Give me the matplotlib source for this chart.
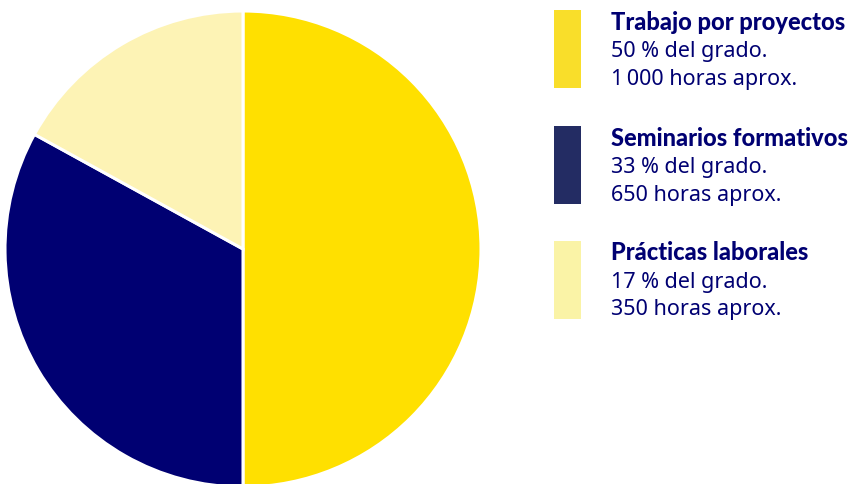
import matplotlib
matplotlib.use('Agg')
import matplotlib.pyplot as plt
from matplotlib.patches import Rectangle

# data
categories = ['Trabajo por proyectos', 'Seminarios formativos', 'Prácticas laborales']
shares = [50, 33, 17]
hours = ['1\u2009000', '650', '350']
pie_colors = ['#FFE000', '#000072', '#FDF3B5']
swatch_colors = ['#F9DE2A', '#232C63', '#FAF3A6']
text_color = '#000072'

W, H = 856, 484
plt.rcParams['font.family'] = ['Noto Sans', 'DejaVu Sans']

fig = plt.figure(figsize=(W / 100, H / 100), dpi=100)
ax = fig.add_axes([0, 0, 1, 1])
ax.set_xlim(0, W)
ax.set_ylim(0, H)
ax.axis('off')

ax.pie(shares, colors=pie_colors, startangle=90, counterclock=False,
       center=(243, H - 249), radius=238,
       wedgeprops=dict(edgecolor='white', linewidth=2.2))
ax.set_xlim(0, W)
ax.set_ylim(0, H)
ax.set_aspect('auto')

# legend blocks (pixel layout, y measured from the top)
swatch_tops = [10, 126, 241]
for i, name in enumerate(categories):
    top = swatch_tops[i]
    ax.add_patch(Rectangle((554, H - top - 78), 27, 78,
                           facecolor=swatch_colors[i], edgecolor='none'))
    base = top + 19.5
    ax.text(611, H - base, name, fontsize=17, fontweight=900,
            family=['Lato', 'DejaVu Sans'],
            color=text_color, va='baseline', ha='left')
    ax.text(611, H - base - 27.5, f'{shares[i]} % del grado.', fontsize=15.5,
            color=text_color, va='baseline', ha='left')
    ax.text(611, H - base - 55, f'{hours[i]} horas aprox.', fontsize=15.5,
            color=text_color, va='baseline', ha='left')

fig.savefig('out.png', dpi=100)
